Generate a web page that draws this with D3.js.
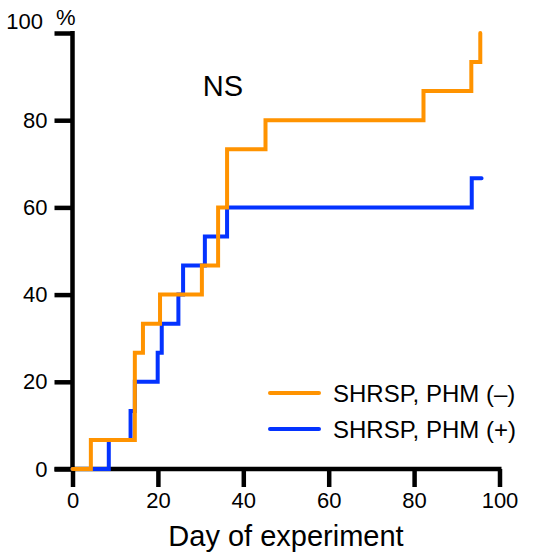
<!DOCTYPE html>
<html>
<head>
<meta charset="utf-8">
<script src="https://cdn.jsdelivr.net/npm/d3@7"></script>
<style>
  body { margin: 0; background: #fff; }
</style>
</head>
<body>
<div id="chart"></div>
<script>
// Cumulative incidence (%) by day, two groups, step curves.
const xTicks = [0, 20, 40, 60, 80, 100];
const yTicks = [0, 20, 40, 60, 80, 100];

const minusDays = [0, 4.3, 14.6, 16.5, 20.5, 30.3, 34.1, 36.2, 45.2, 82.2, 93.4, 95.5];
const minusVals = [0, 6.67, 26.67, 33.33, 40, 46.67, 60, 73.33, 80, 86.67, 93.33, 100];

const plusDays = [0, 8.5, 13.6, 14.6, 19.95, 20.9, 24.8, 25.9, 31.0, 36.2, 93.5, 95.8];
const plusVals = [0, 6.67, 13.33, 20, 26.67, 33.33, 40, 46.67, 53.33, 60, 66.67, 66.67];

const seriesNames = ["SHRSP, PHM (\u2013)", "SHRSP, PHM (+)"];
const colors = ["#FF9300", "#0433FF"];

const width = 535, height = 555;
const font = "'Liberation Sans', Arial, Helvetica, sans-serif";

const svg = d3.select("#chart").append("svg")
  .attr("width", width).attr("height", height)
  .style("font-family", font);

const x = d3.scaleLinear().domain([0, 100]).range([72.5, 499.5]);
const y = d3.scaleLinear().domain([0, 100]).range([469, 33]);

// Axes
const xAxis = svg.append("g").attr("transform", `translate(0,${y(0)})`)
  .call(d3.axisBottom(x).tickValues(xTicks).tickSize(18).tickPadding(4));
const yAxis = svg.append("g").attr("transform", `translate(${x(0)},0)`)
  .call(d3.axisLeft(y).tickValues(yTicks).tickSize(18).tickPadding(7)
    .tickFormat(d => d === 100 ? "" : d));

for (const ax of [xAxis, yAxis]) {
  ax.select(".domain").attr("stroke", "#000").attr("stroke-width", 4.5);
  ax.selectAll(".tick line").attr("stroke", "#000").attr("stroke-width", 4.5);
  ax.selectAll(".tick text")
    .attr("fill", "#000").attr("font-size", 22).attr("font-family", font);
}
xAxis.select(".domain").attr("d", `M${x(0) - 18},0H${x(100) + 2}`);
yAxis.select(".domain").attr("d", `M0,${y(0)}V${y(100) - 2}`);
xAxis.selectAll(".tick text").attr("dy", "0.78em");

// "100 %" label sits above the top tick
svg.append("text").attr("x", 43).attr("y", 29)
  .attr("text-anchor", "end").attr("font-size", 22).text("100");
svg.append("text").attr("x", 56).attr("y", 25)
  .attr("font-size", 22).text("%");

// Step curves: blue first, orange on top
const line = d3.line()
  .x(d => x(d[0])).y(d => y(d[1]))
  .curve(d3.curveStepAfter);

const plus = plusDays.map((d, i) => [d, plusVals[i]]);
const minus = minusDays.map((d, i) => [d, minusVals[i]]);

svg.append("path").datum(plus).attr("d", line)
  .attr("fill", "none").attr("stroke", colors[1]).attr("stroke-width", 4)
  .attr("stroke-linecap", "round");
svg.append("path").datum(minus).attr("d", line)
  .attr("fill", "none").attr("stroke", colors[0]).attr("stroke-width", 4)
  .attr("stroke-linecap", "round");

// NS annotation
svg.append("text").attr("x", 223).attr("y", 96)
  .attr("text-anchor", "middle").attr("font-size", 29).text("NS");

// Legend
const legend = svg.append("g");
seriesNames.forEach((name, i) => {
  const ly = 393 + i * 36;
  legend.append("line")
    .attr("x1", 270).attr("x2", 319).attr("y1", ly).attr("y2", ly)
    .attr("stroke", colors[i]).attr("stroke-width", 4).attr("stroke-linecap", "round");
  legend.append("text").attr("x", 333).attr("y", ly + 8.5)
    .attr("font-size", 24).text(name);
});

// Axis title
svg.append("text").attr("x", 286).attr("y", 546)
  .attr("text-anchor", "middle").attr("font-size", 29).text("Day of experiment");
</script>
</body>
</html>
